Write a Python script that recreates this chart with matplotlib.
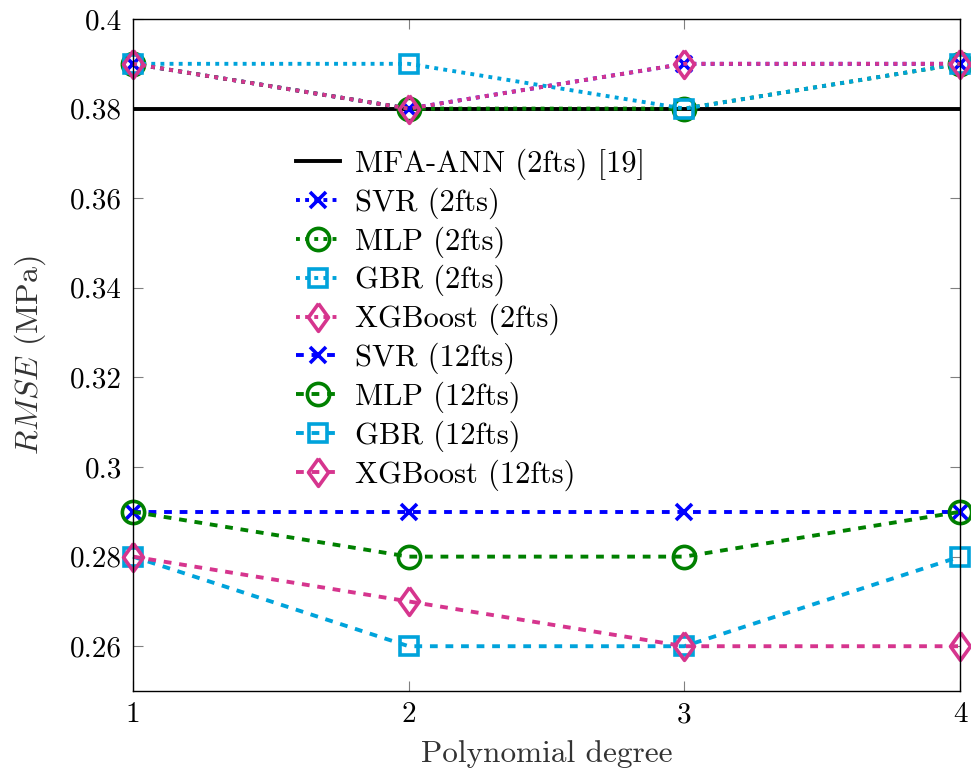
import matplotlib
matplotlib.use("Agg")
import matplotlib.pyplot as plt
import numpy as np

plt.rcParams['font.family'] = ['cmr10', 'DejaVu Serif']
plt.rcParams['mathtext.fontset'] = 'cm'
plt.rcParams['axes.formatter.use_mathtext'] = True
plt.rcParams['axes.unicode_minus'] = False

degrees = [1, 2, 3, 4]
mfa_ann = 0.38

svr_2 = [0.39, 0.38, 0.39, 0.39]
mlp_2 = [0.39, 0.38, 0.38, 0.39]
gbr_2 = [0.39, 0.39, 0.38, 0.39]
xgb_2 = [0.39, 0.38, 0.39, 0.39]

svr_12 = [0.29, 0.29, 0.29, 0.29]
mlp_12 = [0.29, 0.28, 0.28, 0.29]
gbr_12 = [0.28, 0.26, 0.26, 0.28]
xgb_12 = [0.28, 0.27, 0.26, 0.26]

yticks = [0.26, 0.28, 0.30, 0.32, 0.34, 0.36, 0.38, 0.40]
ytick_labels = ['0.26', '0.28', '0.3', '0.32', '0.34', '0.36', '0.38', '0.4']
xtick_labels = ['1', '2', '3', '4']

BLUE = '#0000FF'
GREEN = '#008000'
CYAN = '#00A3DB'
PINK = '#D6358E'

diamond = [(0, 1), (0.72, 0), (0, -1), (-0.72, 0), (0, 1)]

fig = plt.figure(figsize=(9.71, 7.76), dpi=100)
ax = fig.add_axes([0.137, 0.1095, 0.8517, 0.866])

lw = 2.8
dotted = (0, (1.0, 1.35))
dashed = (0, (2.0, 2.0))

ax.plot([1, 4], [mfa_ann, mfa_ann], color='black', lw=lw, ls='-', label='MFA-ANN (2fts) [19]')

series = [
    (svr_2, BLUE, 'x', 12, dotted, 'SVR (2fts)'),
    (mlp_2, GREEN, 'o', 16, dotted, 'MLP (2fts)'),
    (gbr_2, CYAN, 's', 13.5, dotted, 'GBR (2fts)'),
    (xgb_2, PINK, diamond, 20, dotted, 'XGBoost (2fts)'),
    (svr_12, BLUE, 'x', 12, dashed, 'SVR (12fts)'),
    (mlp_12, GREEN, 'o', 16, dashed, 'MLP (12fts)'),
    (gbr_12, CYAN, 's', 13.5, dashed, 'GBR (12fts)'),
    (xgb_12, PINK, diamond, 20, dashed, 'XGBoost (12fts)'),
]
for vals, col, mk, ms, ls, lab in series:
    ax.plot(degrees, vals, color=col, lw=lw, ls=ls, marker=mk, ms=ms,
            mew=2.6, mfc='none', mec=col, label=lab, clip_on=False)

ax.set_xlim(1, 4)
ax.set_ylim(0.25, 0.40)
ax.set_xticks(degrees)
ax.set_xticklabels(xtick_labels)
ax.set_yticks(yticks)
ax.set_yticklabels(ytick_labels)
ax.tick_params(axis='both', direction='in', length=7, width=0.8, color='#808080',
               labelsize=21, top=True, right=True)
ax.tick_params(axis='y', pad=8)
ax.tick_params(axis='x', pad=8)
for s in ax.spines.values():
    s.set_linewidth(1.0)
    s.set_color('black')

ax.set_xlabel('Polynomial degree', fontsize=22.5, color='#333333', labelpad=8)
ax.set_ylabel(r'$RMSE$ (MPa)', fontsize=23, color='#333333', labelpad=16)

leg = ax.legend(loc='upper left', bbox_to_anchor=(0.182, 0.826), frameon=False,
                fontsize=22, handlelength=1.45, handletextpad=0.5,
                labelspacing=0.245, borderaxespad=0, numpoints=1)

fig.savefig('out.png', dpi=100)
